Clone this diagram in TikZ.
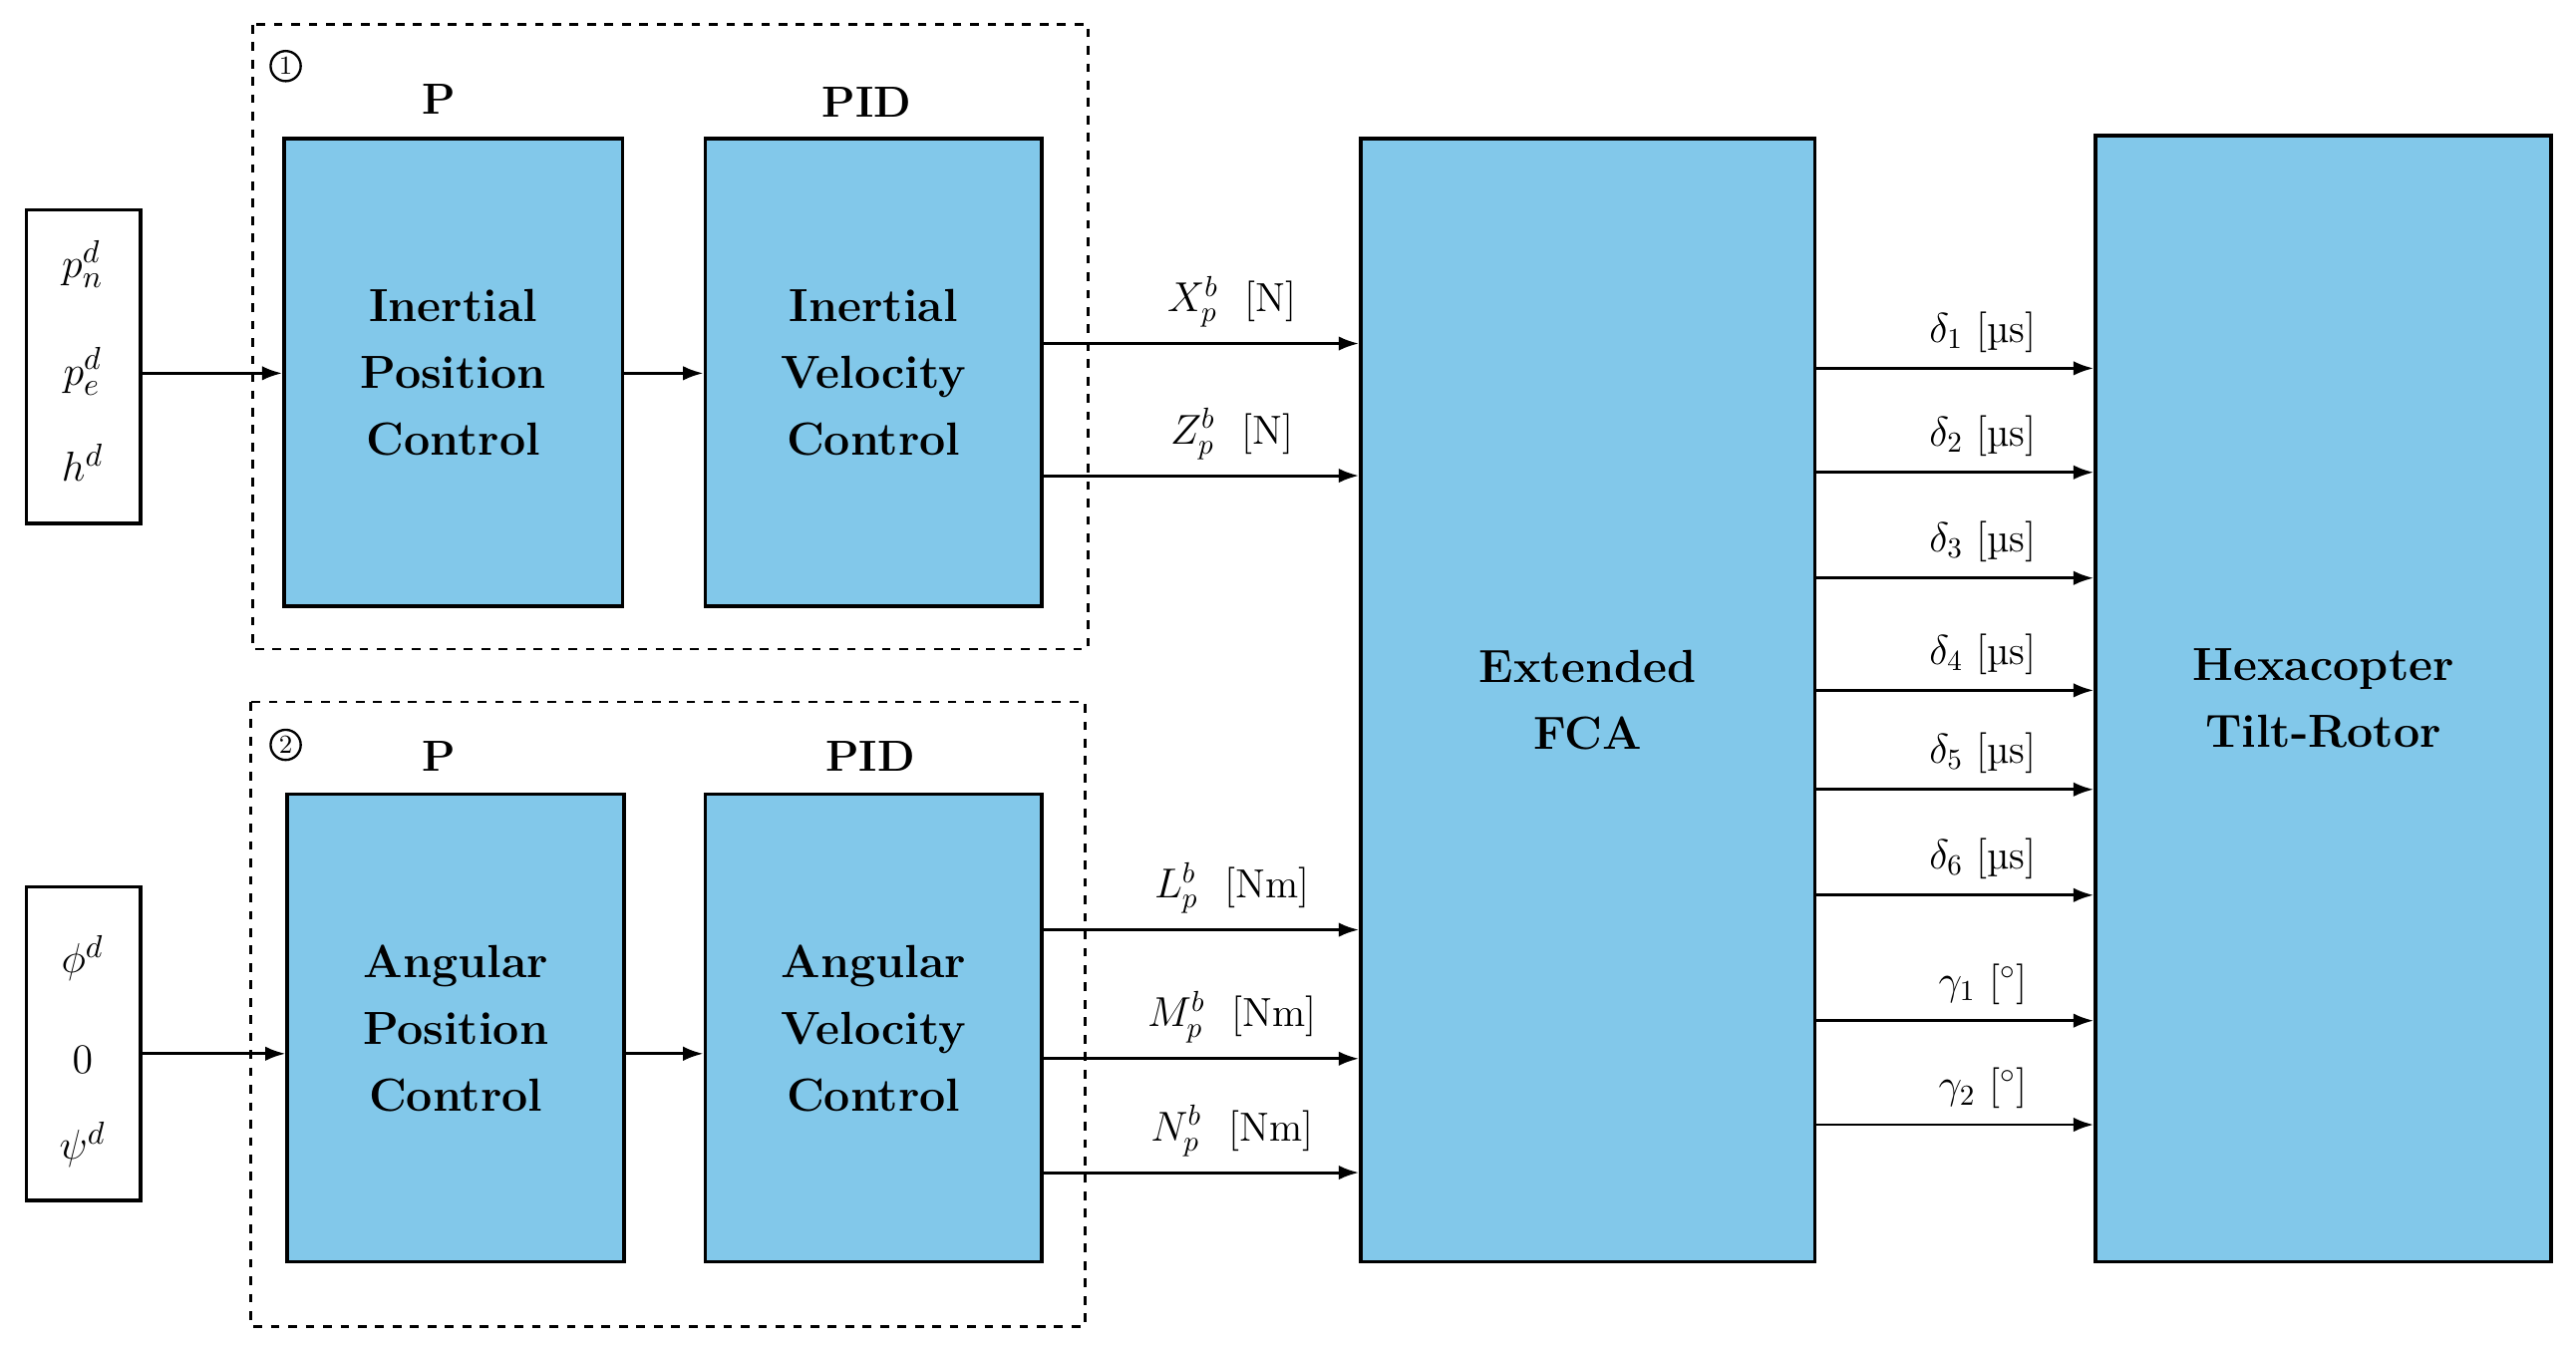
\documentclass[tikz,border=0pt]{standalone}
\usetikzlibrary{arrows.meta}
\begin{document}
\begin{tikzpicture}[x=0.02cm,y=-0.02cm,
 blk/.style={draw,line width=1.2pt,fill={rgb,255:red,130;green,200;blue,234},font=\fontsize{16}{23}\selectfont\bfseries,align=center},
 inp/.style={draw,line width=1.2pt,fill=white},
 dbox/.style={draw,dashed,line width=1pt},
 arr/.style={-{Latex[length=7pt,width=5pt]},line width=1pt},
 lbl/.style={font=\fontsize{14}{16}\selectfont,anchor=south,inner sep=1pt},
 hd/.style={font=\fontsize{15}{18}\selectfont\bfseries}]
\useasboundingbox (0,0) rectangle (1560,816);
\draw[dbox] (153,15) rectangle (659,393);
\draw[dbox] (152,425) rectangle (657,803);
\node[draw,circle,inner sep=1pt,line width=0.8pt,font=\small] (c1) at (173,40) {1};
\node[draw,circle,inner sep=1pt,line width=0.8pt,font=\small] (c2) at (173,451) {2};
\node[hd] (p1) at (266,60) {P};
\node[hd] (pid1) at (525,62) {PID};
\node[hd] (p2) at (266,458) {P};
\node[hd] (pid2) at (527,458) {PID};
\path[inp] (16,127) rectangle (85,317);
\node[font=\fontsize{15}{18}\selectfont] at (50,160) {$p_n^d$};
\node[font=\fontsize{15}{18}\selectfont] at (50,225) {$p_e^d$};
\node[font=\fontsize{15}{18}\selectfont] at (50,280) {$h^d$};
\path[inp] (16,537) rectangle (85,727);
\node[font=\fontsize{15}{18}\selectfont] at (50,580) {$\phi^d$};
\node[font=\fontsize{15}{18}\selectfont] at (50,642) {$0$};
\node[font=\fontsize{15}{18}\selectfont] at (50,693) {$\psi^d$};
\coordinate (i1) at (85,226);
\coordinate (i2) at (85,638);
\node[blk,minimum width=205*0.02cm,minimum height=283*0.02cm] (ipc) at (274.5,225.5) {Inertial\\Position\\Control};
\node[blk,minimum width=204*0.02cm,minimum height=283*0.02cm] (ivc) at (529,225.5) {Inertial\\Velocity\\Control};
\node[blk,minimum width=204*0.02cm,minimum height=283*0.02cm] (apc) at (276,622.5) {Angular\\Position\\Control};
\node[blk,minimum width=204*0.02cm,minimum height=283*0.02cm] (avc) at (529,622.5) {Angular\\Velocity\\Control};
\node[blk,minimum width=275*0.02cm,minimum height=680*0.02cm] (fca) at (961.5,424) {Extended\\FCA};
\node[blk,minimum width=276*0.02cm,minimum height=682*0.02cm] (hex) at (1407,423) {Hexacopter\\Tilt-Rotor};
\draw[arr] (i1) -- (ipc.west|-i1);
\draw[arr] (ipc.east|-i1) -- (ivc.west|-i1);
\draw[arr] (i2) -- (apc.west|-i2);
\draw[arr] (apc.east|-i2) -- (avc.west|-i2);
\foreach \y/\t in {208/{$X_p^b$\ \ [N]},288/{$Z_p^b$\ \ [N]},563/{$L_p^b$\ \ [Nm]},641/{$M_p^b$\ \ [Nm]},710/{$N_p^b$\ \ [Nm]}}{
 \draw[arr] (631,\y) -- (fca.west|-0,\y) node[lbl,pos=0.6,yshift=4pt] {\t};}
\foreach \y/\t in {223/{$\delta_1$ [\textmu s]},286/{$\delta_2$ [\textmu s]},350/{$\delta_3$ [\textmu s]},418/{$\delta_4$ [\textmu s]},478/{$\delta_5$ [\textmu s]},542/{$\delta_6$ [\textmu s]},618/{$\gamma_1$ [$^\circ$]},681/{$\gamma_2$ [$^\circ$]}}{
 \draw[arr] (fca.east|-0,\y) -- (hex.west|-0,\y) node[lbl,pos=0.6,yshift=4pt] {\t};}
\end{tikzpicture}
\end{document}
